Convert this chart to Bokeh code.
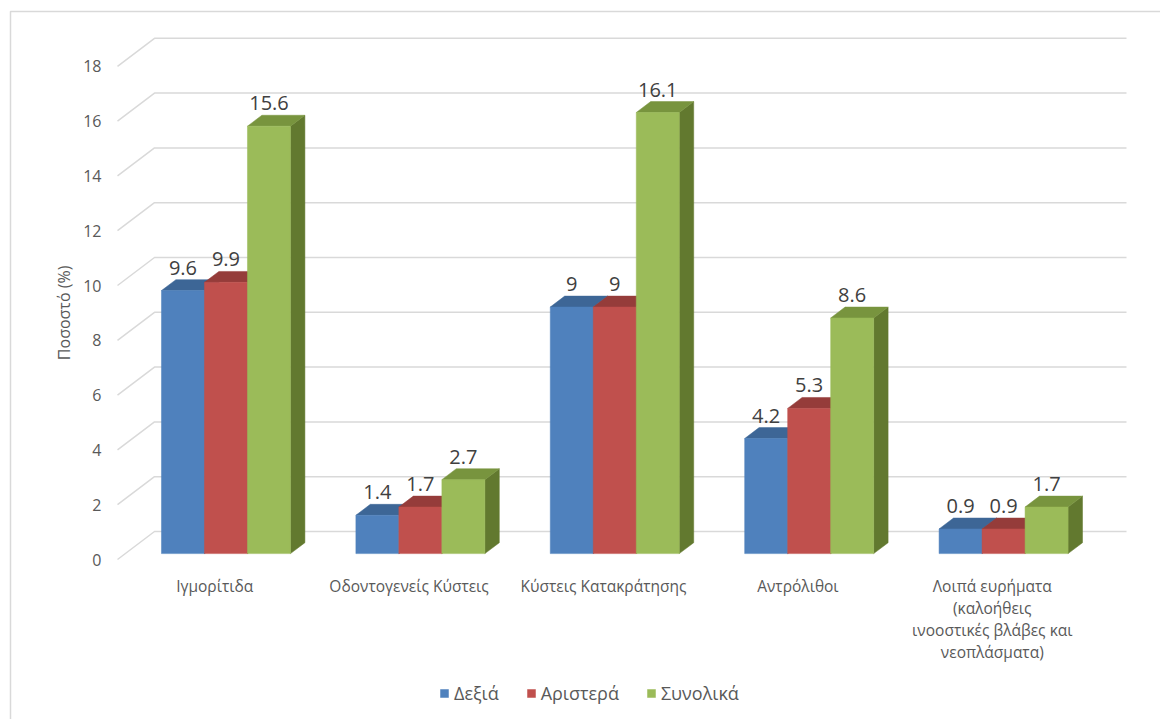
from bokeh.plotting import figure
from bokeh.models import Range1d, ColumnDataSource, Legend, LegendItem
from bokeh.core.properties import value
from bokeh.embed import file_html
from bokeh.resources import INLINE

# ---- data ----
categories = [
    "Ιγμορίτιδα",
    "Οδοντογενείς Κύστεις",
    "Κύστεις Κατακράτησης",
    "Αντρόλιθοι",
    "Λοιπά ευρήματα\n(καλοήθεις\nινοοστικές βλάβες και\nνεοπλάσματα)",
]
series_names = ["Δεξιά", "Αριστερά", "Συνολικά"]
right_side = [9.6, 1.4, 9, 4.2, 0.9]
left_side = [9.9, 1.7, 9, 5.3, 0.9]
total = [15.6, 2.7, 16.1, 8.6, 1.7]
y_ticks = [0, 2, 4, 6, 8, 10, 12, 14, 16, 18]
y_title = "Ποσοστό (%)"

series_values = [right_side, left_side, total]
front_colors = ["#4F81BD", "#C0504D", "#9BBB59"]
top_colors = ["#3D6696", "#953C3A", "#78943E"]
side_colors = ["#3A5F8B", "#8A3735", "#62792F"]

# ---- canvas geometry ----
W, H = 1160, 719
CAT_PX = 194.4      # pixels per category
UNIT_PX = 27.4      # pixels per percentage unit
ORIGIN_X = 214.2    # canvas x of the first category centre (floor front)
ORIGIN_Y = 559      # canvas y of value 0 (floor front)


def cx(px):
    return (px - ORIGIN_X) / CAT_PX


def cy(py):
    return (ORIGIN_Y - py) / UNIT_PX


# oblique projection of the depth axis
DX = 37 / CAT_PX
DY = 28 / UNIT_PX
F0 = 0.21           # front of the bars, as a fraction of the full depth
DEPTH = 0.39        # bar depth, as a fraction of the full depth
BAR_W = 43 / CAT_PX
FRONT_SHIFT = 0.058

n = len(categories)
FONT = "Open Sans"
TEXT_GREY = "#595959"

p = figure(
    width=W, height=H,
    x_range=Range1d(cx(0), cx(W)), y_range=Range1d(cy(H), cy(0)),
    x_axis_location=None, y_axis_location=None,
    toolbar_location=None, output_backend="svg",
    min_border=0, outline_line_color=None,
)
p.background_fill_color = "white"
p.border_fill_color = "white"
p.grid.visible = False

# chart area border
p.line(x=[cx(10), cx(10), cx(W + 10)], y=[cy(H + 10), cy(11), cy(11)],
       line_color="#D9D9D9", line_width=1.5)

# gridlines: side wall diagonal + back wall horizontal
left_edge = -0.5
right_edge = n - 0.5
grid_xs = [[left_edge, left_edge + DX, right_edge + DX] for _ in y_ticks]
grid_ys = [[t, t + DY, t + DY] for t in y_ticks]
p.multi_line(xs=grid_xs, ys=grid_ys, line_color="#D9D9D9", line_width=1.5)

# tick labels
p.text(x=[left_edge] * len(y_ticks), y=y_ticks, text=[str(t) for t in y_ticks],
       x_offset=-16, text_align="right", text_baseline="middle",
       text_font=value(FONT), text_font_size="16px", text_color=TEXT_GREY)

# axis title
p.text(x=[left_edge], y=[(y_ticks[0] + y_ticks[-1]) / 2], text=[y_title],
       x_offset=-54, angle=1.5707963, text_align="center", text_baseline="middle",
       text_font=value(FONT), text_font_size="16px", text_color=TEXT_GREY)

# bars
ddx = DEPTH * DX
ddy = DEPTH * DY
legend_items = []
for k, vals in enumerate(series_values):
    x0 = [i + FRONT_SHIFT + (k - 1.5) * BAR_W for i in range(n)]
    x1 = [a + BAR_W for a in x0]
    yb = [F0 * DY] * n
    yt = [v + F0 * DY for v in vals]

    side_xs = [[b, b + ddx, b + ddx, b] for b in x1]
    side_ys = [[lo, lo + ddy, hi + ddy, hi] for lo, hi in zip(yb, yt)]
    p.patches(xs=side_xs, ys=side_ys, fill_color=side_colors[k], line_color=side_colors[k],
              line_width=0.5)

    top_xs = [[a, b, b + ddx, a + ddx] for a, b in zip(x0, x1)]
    top_ys = [[hi, hi, hi + ddy, hi + ddy] for hi in yt]
    p.patches(xs=top_xs, ys=top_ys, fill_color=top_colors[k], line_color=top_colors[k],
              line_width=0.5)

    src = ColumnDataSource(dict(left=x0, right=x1, bottom=yb, top=yt))
    front = p.quad(left="left", right="right", bottom="bottom", top="top", source=src,
                   fill_color=front_colors[k], line_color=front_colors[k], line_width=0.5)
    legend_items.append(LegendItem(label=series_names[k], renderers=[front]))

    # value labels above each bar
    p.text(x=[(a + b) / 2 for a, b in zip(x0, x1)],
           y=[hi + ddy for hi in yt], text=[f"{v:g}" for v in vals],
           y_offset=-12, text_align="center", text_baseline="middle",
           text_font=value(FONT), text_font_size="20px", text_color="#404040")

# category labels
p.text(x=list(range(n)), y=[0] * n, text=categories, y_offset=15,
       text_align="center", text_baseline="top", text_line_height=1.0,
       text_font=value(FONT), text_font_size="15.5px", text_color=TEXT_GREY)

legend = Legend(items=legend_items, orientation="horizontal", location=(439, 14),
                padding=0, margin=0, spacing=27, glyph_width=10, glyph_height=10,
                label_standoff=5, label_text_font=FONT, label_text_font_size="18px",
                label_text_color=TEXT_GREY, border_line_color=None,
                background_fill_alpha=0)
p.add_layout(legend, "center")

open("out.html", "w").write(file_html(p, INLINE))
